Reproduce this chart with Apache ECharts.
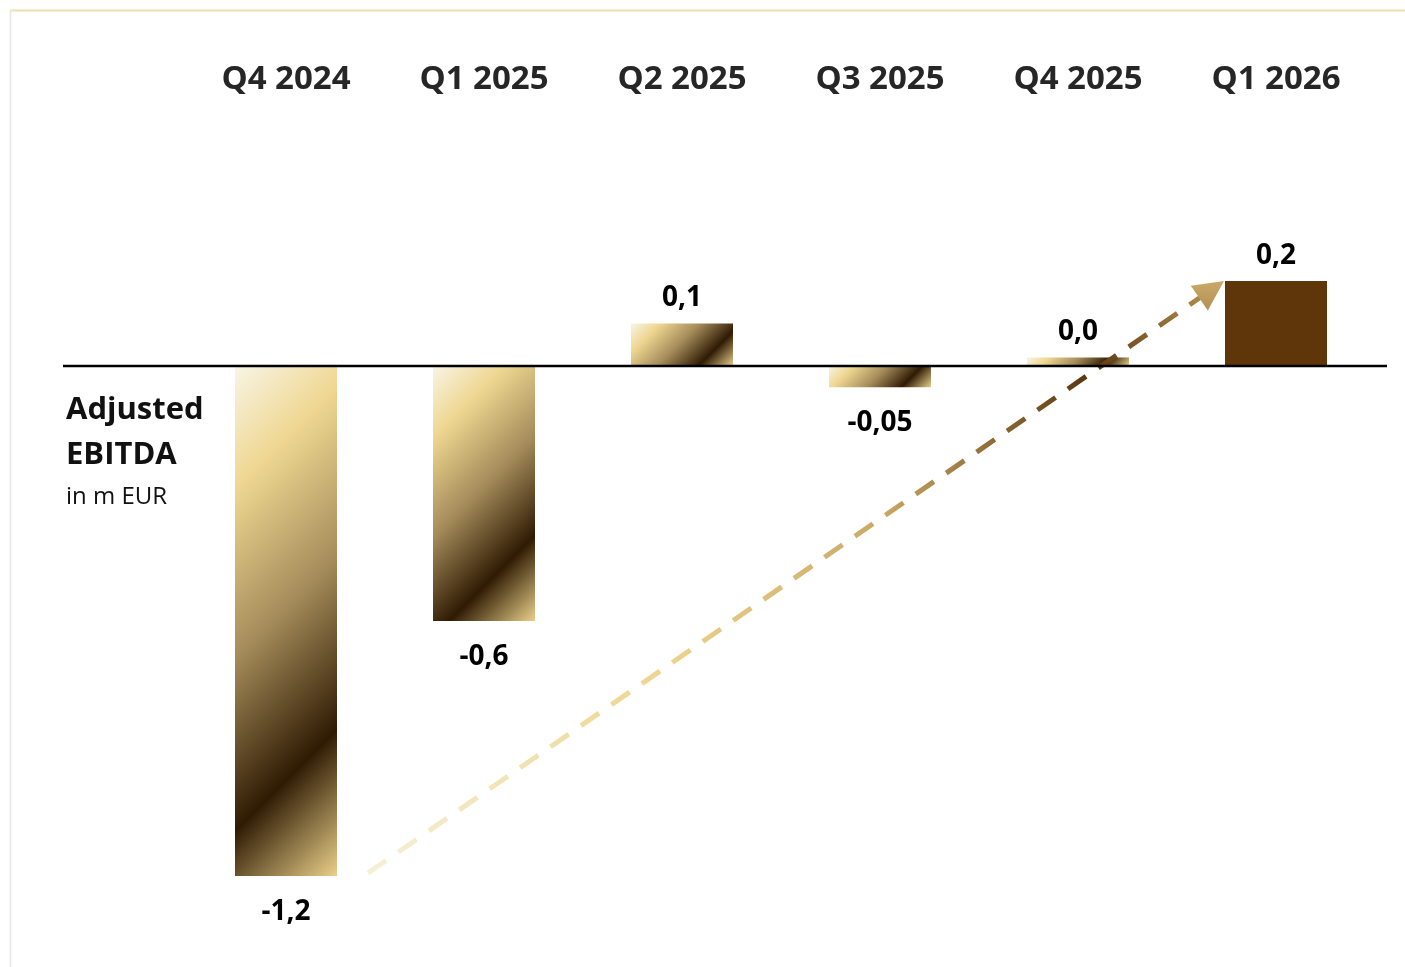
<!DOCTYPE html>
<html>
<head>
<meta charset="utf-8">
<script src="https://cdn.jsdelivr.net/npm/echarts@6/dist/echarts.min.js"></script>
<style>
  html, body { margin: 0; padding: 0; background: #ffffff; }
  #chart { width: 1405px; height: 967px; }
</style>
</head>
<body>
<div id="chart"></div>
<script>
// Quarterly Adjusted EBITDA, in m EUR
const quarters = ['Q4 2024', 'Q1 2025', 'Q2 2025', 'Q3 2025', 'Q4 2025', 'Q1 2026'];
const ebitda = [-1.2, -0.6, 0.1, -0.05, 0.02, 0.2];
const labelDecimals = [1, 1, 1, 2, 1, 1];

const FONT = '"Open Sans", "Noto Sans", sans-serif';
const BAR_W = 102;
const Y_MIN = -1.3, Y_MAX = 0.3;

const chart = echarts.init(document.getElementById('chart'), null, { renderer: 'canvas' });

function fmt(v, i) {
  return v.toFixed(labelDecimals[i]).replace('.', ',').replace(/^-0,0+$/, '0,0');
}

const baseOption = {
  animation: false,
  backgroundColor: '#ffffff',
  title: {
    text: 'Adjusted\nEBITDA',
    subtext: 'in m EUR',
    left: 66,
    top: 388,
    padding: 0,
    itemGap: 5,
    textStyle: { fontFamily: FONT, fontSize: 31, fontWeight: 'bold', color: '#111111', lineHeight: 45 },
    subtextStyle: { fontFamily: FONT, fontSize: 24, color: '#111111', lineHeight: 28 }
  },
  grid: { left: 187, right: 30, top: 238.5, height: 680, containLabel: false },
  xAxis: {
    type: 'category',
    position: 'top',
    data: quarters,
    axisLine: { show: false },
    axisTick: { show: false },
    axisLabel: {
      margin: 139,
      fontFamily: FONT, fontSize: 33, fontWeight: 'bold', color: '#262626', lineHeight: 40
    }
  },
  yAxis: {
    type: 'value',
    min: Y_MIN, max: Y_MAX,
    show: false,
    splitLine: { show: false }
  },
  series: [{
    type: 'bar',
    barWidth: BAR_W,
    data: ebitda.map((v, i) => ({ value: v })),
    itemStyle: { color: '#e8cf88' },
    label: {
      show: true,
      fontFamily: FONT, fontSize: 28, fontWeight: 'bold', color: '#000000',
      formatter: p => fmt(p.value, p.dataIndex)
    }
  }]
};

chart.setOption(baseOption);

// Gold sheen: 45-degree gradient laid across each bar's bounding box
const goldStops = [
  { offset: 0, color: '#f8f5e6' },
  { offset: 0.2, color: '#efd792' },
  { offset: 0.48, color: '#a48b5a' },
  { offset: 0.76, color: '#2f1b04' },
  { offset: 1, color: '#ead08a' }
];
const y0 = chart.convertToPixel({ yAxisIndex: 0 }, 0);
const styledData = ebitda.map((v, i) => {
  const h = Math.max(Math.abs(chart.convertToPixel({ yAxisIndex: 0 }, v) - y0), 1);
  const w = BAR_W;
  const isLast = i === ebitda.length - 1;
  const color = isLast ? '#5e3609' : new echarts.graphic.LinearGradient(
    0, 0, (w + h) / (2 * w), (w + h) / (2 * h), goldStops);
  return {
    value: v,
    itemStyle: { color: color },
    label: { position: v < 0 ? 'bottom' : 'top', distance: v < 0 ? 22 : 11 }
  };
});

// Trend arrow from the first bar's low to the last bar's top
const firstX = chart.convertToPixel({ xAxisIndex: 0 }, quarters[0]);
const lastX = chart.convertToPixel({ xAxisIndex: 0 }, quarters[quarters.length - 1]);
const sx = firstX + BAR_W / 2 + 31;
const sy = chart.convertToPixel({ yAxisIndex: 0 }, ebitda[0]) - 3;
const tx = lastX - BAR_W / 2 - 1;
const ty = chart.convertToPixel({ yAxisIndex: 0 }, ebitda[ebitda.length - 1]);
const ang = Math.atan2(ty - sy, tx - sx);
const ux = Math.cos(ang), uy = Math.sin(ang);
const nx = -uy, ny = ux;
const headL = 30, headW = 30;
const bx = tx - headL * ux, by = ty - headL * uy;

const arrowGrad = new echarts.graphic.LinearGradient(0, 1, 1, 0, [
  { offset: 0, color: '#f6f0d8' },
  { offset: 0.35, color: '#eed590' },
  { offset: 0.62, color: '#c8a764' },
  { offset: 0.86, color: '#5a380e' },
  { offset: 1, color: '#b08a4c' }
]);

chart.setOption({
  series: [{ data: styledData }],
  graphic: [
    // frame
    {
      type: 'line', silent: true, z: 1,
      shape: { x1: 10, y1: 10.5, x2: 1405, y2: 10.5 },
      style: { stroke: '#f0dfae', lineWidth: 2 }
    },
    {
      type: 'line', silent: true, z: 1,
      shape: { x1: 10.5, y1: 10, x2: 10.5, y2: 967 },
      style: {
        stroke: new echarts.graphic.LinearGradient(0, 0, 0, 1, [
          { offset: 0, color: '#e2cb8e' },
          { offset: 0.3, color: '#7e602e' },
          { offset: 0.7, color: '#e9d08a' },
          { offset: 1, color: '#e6e6e6' }
        ], true),
        lineWidth: 1.6
      }
    },
    // zero line
    {
      type: 'line', silent: true, z: 100,
      shape: { x1: 63, y1: y0, x2: 1387, y2: y0 },
      style: { stroke: '#000000', lineWidth: 2.5 }
    },
    // dashed trend shaft
    {
      type: 'line', silent: true, z: 90,
      shape: { x1: sx, y1: sy, x2: bx + 4 * ux, y2: by + 4 * uy },
      style: { stroke: arrowGrad, lineWidth: 5, lineDash: [22, 15] }
    },
    // arrow head
    {
      type: 'polygon', silent: true, z: 91,
      shape: {
        points: [
          [tx, ty],
          [bx + nx * headW / 2, by + ny * headW / 2],
          [bx - nx * headW / 2, by - ny * headW / 2]
        ]
      },
      style: {
        fill: new echarts.graphic.LinearGradient(0, 0, 0, 1, [
          { offset: 0, color: '#c9a96a' },
          { offset: 1, color: '#b39050' }
        ])
      }
    }
  ]
});
</script>
</body>
</html>
